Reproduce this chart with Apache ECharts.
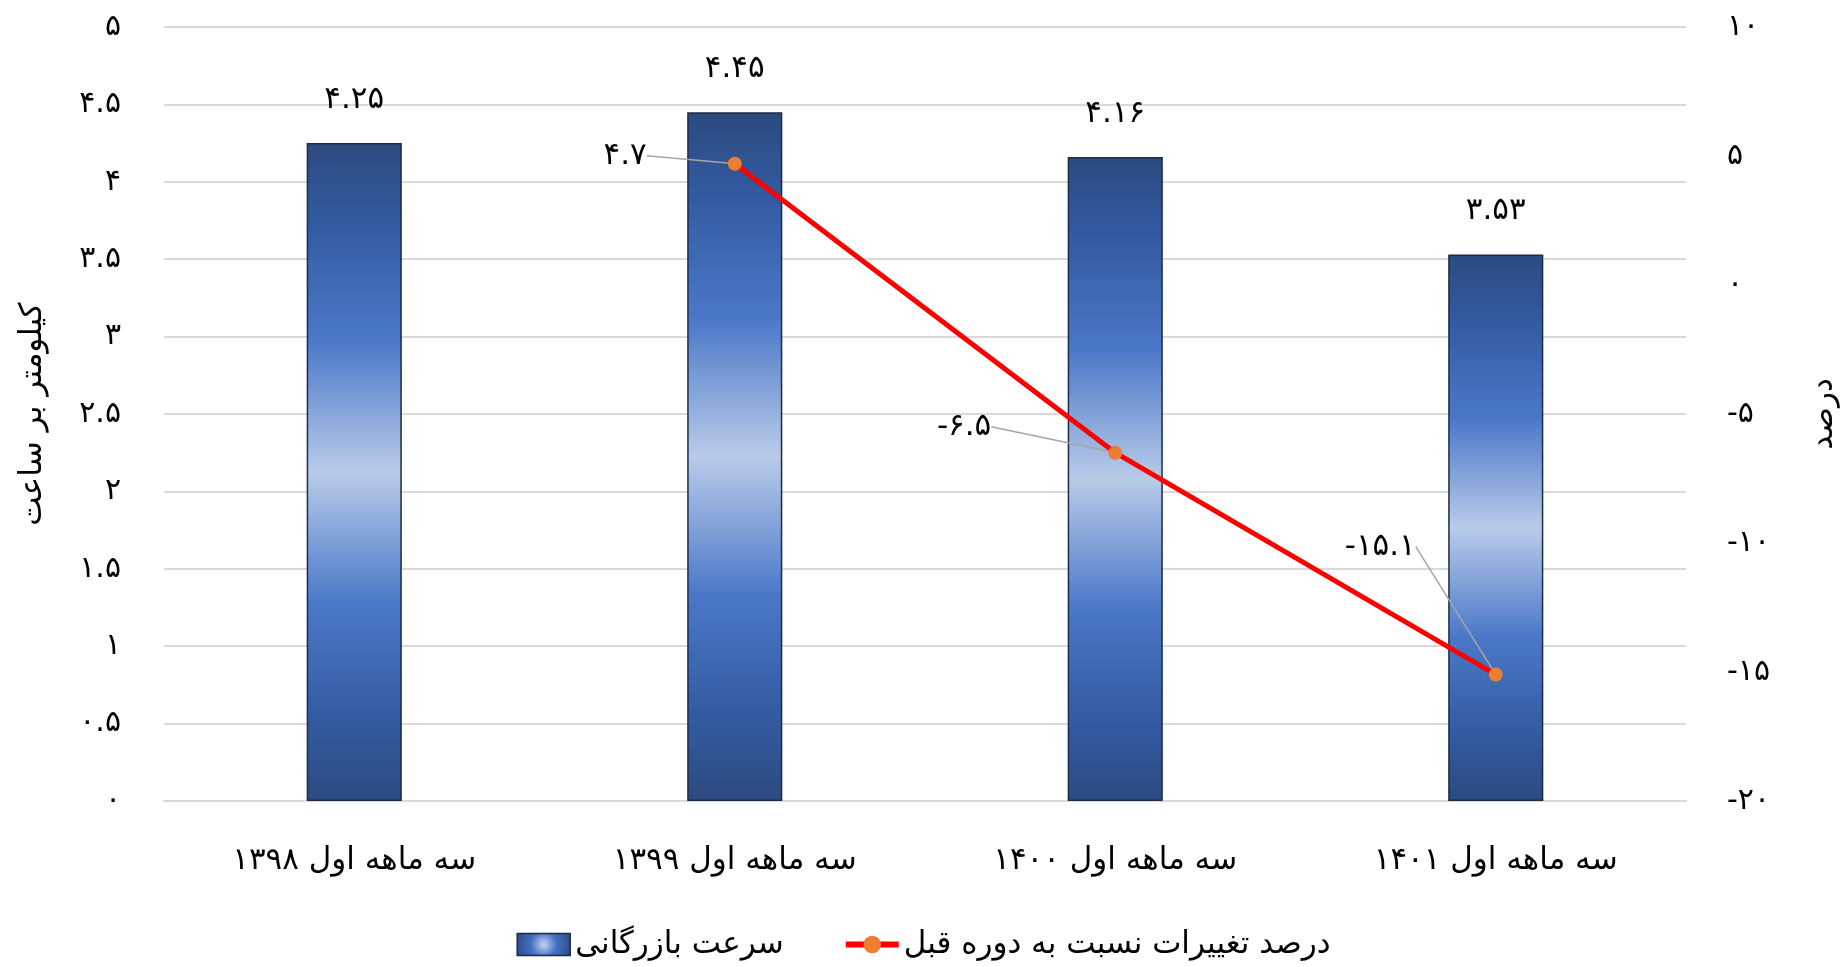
<!DOCTYPE html>
<html>
<head>
<meta charset="utf-8">
<script src="https://cdn.jsdelivr.net/npm/echarts@6/dist/echarts.min.js"></script>
<style>
html,body{margin:0;padding:0;background:#fff;}
#chart{width:1847px;height:967px;}
</style>
</head>
<body>
<div id="chart"></div>
<script>
const categories = ['سه ماهه اول ۱۳۹۸', 'سه ماهه اول ۱۳۹۹', 'سه ماهه اول ۱۴۰۰', 'سه ماهه اول ۱۴۰۱'];
const speedValues = [4.25, 4.45, 4.16, 3.53];
const changeValues = [null, 4.7, -6.5, -15.1];
const seriesNames = ['سرعت بازرگانی', 'درصد تغییرات نسبت به دوره قبل'];
const leftAxisName = 'کیلومتر بر ساعت';
const rightAxisName = 'درصد';

const FONT = 'DejaVu Sans';
const fa = (v) => String(v).replace(/[0-9]/g, d => '۰۱۲۳۴۵۶۷۸۹'[+d]);

// label offsets for the line labels (layout only)
const lineLabelShift = [[0, 0], [-76, -8], [-112, -26], [-68, -128]];

const barGradient = {
  type: 'linear', x: 0, y: 0, x2: 0, y2: 1,
  colorStops: [
    {offset: 0, color: '#2c4a80'},
    {offset: 0.12, color: '#335aa0'},
    {offset: 0.3, color: '#4a78c8'},
    {offset: 0.5, color: '#b9cbe9'},
    {offset: 0.7, color: '#4a78c8'},
    {offset: 0.88, color: '#335aa0'},
    {offset: 1, color: '#2c4a80'}
  ]
};
const legendGradient = {
  type: 'radial', x: 0.5, y: 0.5, r: 1.2,
  colorStops: [
    {offset: 0, color: '#c5d4ee'},
    {offset: 0.45, color: '#4472c4'},
    {offset: 1, color: '#2c4a80'}
  ]
};

const chart = echarts.init(document.getElementById('chart'));
chart.setOption({
  animation: false,
  textStyle: {fontFamily: FONT},
  grid: {left: 164, right: 159, top: 27, bottom: 166, containLabel: false},
  legend: {
    bottom: 2,
    left: 'center',
    itemWidth: 53,
    itemHeight: 22,
    itemGap: 59,
    textStyle: {fontFamily: FONT, fontSize: 31, color: '#000'},
    data: [
      {name: seriesNames[0], icon: 'rect', itemStyle: {color: legendGradient, borderColor: '#1c2b48', borderWidth: 1.5}},
      {name: seriesNames[1], lineStyle: {color: '#ff0000', width: 6}, itemStyle: {color: '#ed7d31'}}
    ]
  },
  xAxis: {
    type: 'category',
    data: categories,
    axisTick: {show: false},
    axisLine: {show: true, lineStyle: {color: '#d9d9d9', width: 2}},
    axisLabel: {fontFamily: FONT, fontSize: 31, color: '#000', margin: 44}
  },
  yAxis: [
    {
      type: 'value', min: 0, max: 5, interval: 0.5,
      name: leftAxisName, nameLocation: 'middle', nameRotate: 90, nameGap: 116,
      nameTextStyle: {fontFamily: FONT, fontSize: 31, color: '#000'},
      axisLine: {show: false}, axisTick: {show: false},
      splitLine: {lineStyle: {color: '#d9d9d9', width: 2}},
      axisLabel: {fontFamily: FONT, fontSize: 30, color: '#000', margin: 43, formatter: v => fa(v)}
    },
    {
      type: 'value', min: -20, max: 10, interval: 5,
      name: rightAxisName, nameLocation: 'middle', nameRotate: 90, nameGap: 122,
      nameTextStyle: {fontFamily: FONT, fontSize: 31, color: '#000'},
      axisLine: {show: false}, axisTick: {show: false},
      splitLine: {show: false},
      axisLabel: {fontFamily: FONT, fontSize: 30, color: '#000', margin: 41, formatter: v => fa(v)}
    }
  ],
  series: [
    {
      name: seriesNames[0],
      type: 'bar',
      yAxisIndex: 0,
      data: speedValues,
      barWidth: '25%',
      itemStyle: {color: barGradient, borderColor: '#1c2b48', borderWidth: 1.5},
      label: {
        show: true, position: 'top', distance: 28,
        fontFamily: FONT, fontSize: 31, color: '#000',
        formatter: p => fa(p.value)
      }
    },
    {
      name: seriesNames[1],
      type: 'line',
      yAxisIndex: 1,
      data: changeValues,
      connectNulls: true,
      symbol: 'circle',
      symbolSize: 14,
      lineStyle: {color: '#ff0000', width: 5},
      itemStyle: {color: '#ed7d31'},
      z: 5,
      label: {
        show: true, position: 'left', distance: 5,
        fontFamily: FONT, fontSize: 31, color: '#000',
        formatter: p => fa(p.value)
      },
      labelLine: {show: true, lineStyle: {color: '#a6a6a6', width: 1.5}},
      labelLayout: p => ({dx: lineLabelShift[p.dataIndex][0], dy: lineLabelShift[p.dataIndex][1]})
    }
  ]
});
</script>
</body>
</html>
